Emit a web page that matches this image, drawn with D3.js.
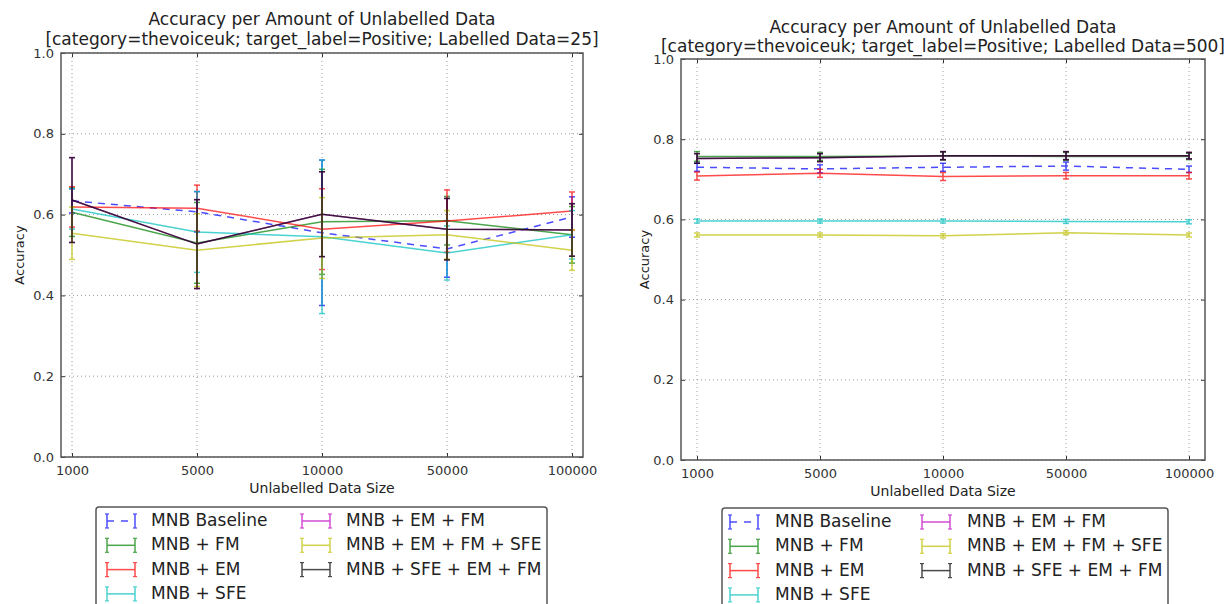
<!DOCTYPE html>
<html><head><meta charset="utf-8">
<script src="https://cdn.jsdelivr.net/npm/d3@7"></script>
<style>
body{margin:0;background:#fff;}
svg{font-family:"DejaVu Sans",sans-serif;}
</style></head>
<body><svg id="c" width="1224" height="604"></svg>
<script>
const xLabels = ["1000","5000","10000","50000","100000"];
const yTicks = [0.0,0.2,0.4,0.6,0.8,1.0];
const seriesNames = ["MNB Baseline","MNB + FM","MNB + EM","MNB + SFE","MNB + EM + FM","MNB + EM + FM + SFE","MNB + SFE + EM + FM"];
const seriesColors = ["#0000ff","#008000","#ff0000","#00bfbf","#bf00bf","#bfbf00","#000000"];
const titleLine1 = "Accuracy per Amount of Unlabelled Data";
const titlesLine2 = ["[category=thevoiceuk; target_label=Positive; Labelled Data=25]","[category=thevoiceuk; target_label=Positive; Labelled Data=500]"];

// Labelled Data = 25
const meansL25 = [
  [0.634,0.607,0.555,0.515,0.594],
  [0.606,0.530,0.582,0.585,0.550],
  [0.619,0.616,0.564,0.584,0.609],
  [0.614,0.557,0.545,0.505,0.550],
  [0.636,0.527,0.601,0.564,0.562],
  [0.554,0.512,0.542,0.550,0.512],
  [0.636,0.527,0.601,0.564,0.562]
];
const errsL25 = [
  [0.030,0.050,0.180,0.070,0.050],
  [0.060,0.100,0.130,0.060,0.070],
  [0.050,0.057,0.100,0.077,0.047],
  [0.050,0.100,0.190,0.067,0.060],
  [0.105,0.110,0.105,0.076,0.065],
  [0.065,0.090,0.100,0.060,0.050],
  [0.105,0.110,0.105,0.076,0.065]
];
// Labelled Data = 500
const meansL500 = [
  [0.730,0.726,0.730,0.733,0.725],
  [0.757,0.757,0.758,0.757,0.757],
  [0.708,0.715,0.707,0.709,0.709],
  [0.596,0.596,0.596,0.595,0.594],
  [0.752,0.754,0.759,0.759,0.759],
  [0.561,0.561,0.559,0.567,0.561],
  [0.752,0.754,0.759,0.759,0.759]
];
const errsL500 = [
  [0.010,0.010,0.010,0.010,0.008],
  [0.012,0.010,0.010,0.010,0.008],
  [0.010,0.010,0.010,0.008,0.008],
  [0.005,0.005,0.005,0.005,0.005],
  [0.012,0.010,0.010,0.010,0.008],
  [0.005,0.005,0.005,0.005,0.005],
  [0.012,0.010,0.010,0.010,0.008]
];

const panels = [
  {box:{l:61,r:583,t:53,b:457}, pad:11, means:meansL25, errs:errsL25, title2:titlesLine2[0], t1:20, t2:40, ylabX:20, legend:{x:96,y:507,w:451,hx:11,col2:195,tx:44}},
  {box:{l:681,r:1205,t:59,b:460}, pad:16, means:meansL500, errs:errsL500, title2:titlesLine2[1], t1:28, t2:47, ylabX:645, legend:{x:722,y:508,w:446,hx:8,col2:192,tx:45}}
];

const svg = d3.select("#c");

panels.forEach(p => {
  const g = svg.append("g");
  const b = p.box;
  const x = d3.scalePoint().domain(xLabels).range([b.l+p.pad, b.r-p.pad]);
  const y = d3.scaleLinear().domain([0,1]).range([b.b, b.t]);

  // grid
  g.append("g").selectAll("line.gx").data(xLabels).join("line")
    .attr("x1",d=>x(d)).attr("x2",d=>x(d)).attr("y1",b.t).attr("y2",b.b)
    .attr("stroke","#9a9a9a").attr("stroke-width",1).attr("stroke-dasharray","1,3");
  g.append("g").selectAll("line.gy").data(yTicks).join("line")
    .attr("x1",b.l).attr("x2",b.r).attr("y1",d=>y(d)).attr("y2",d=>y(d))
    .attr("stroke","#9a9a9a").attr("stroke-width",1).attr("stroke-dasharray","1,3");

  // axes
  const xa = g.append("g").attr("transform",`translate(0,${b.b})`)
    .call(d3.axisBottom(x).tickSizeInner(-4).tickSizeOuter(0).tickPadding(9));
  const xt = g.append("g").attr("transform",`translate(0,${b.t})`)
    .call(d3.axisTop(x).tickSizeInner(-4).tickSizeOuter(0).tickFormat(""));
  const ya = g.append("g").attr("transform",`translate(${b.l},0)`)
    .call(d3.axisLeft(y).tickValues(yTicks).tickFormat(d3.format(".1f")).tickSizeInner(-4).tickSizeOuter(0).tickPadding(7));
  const yr = g.append("g").attr("transform",`translate(${b.r},0)`)
    .call(d3.axisRight(y).tickValues(yTicks).tickFormat("").tickSizeInner(-4).tickSizeOuter(0));
  [xa,xt,ya,yr].forEach(a=>{
    a.select(".domain").remove();
    a.selectAll(".tick line").attr("stroke","#333");
    a.selectAll("text").attr("font-size",13).attr("fill","#333").attr("font-family","DejaVu Sans");
  });

  // series
  const line = d3.line().x((d,i)=>x(xLabels[i])).y(d=>y(d));
  p.means.forEach((vals,si)=>{
    const col = seriesColors[si];
    const sg = g.append("g").attr("opacity",0.7);
    sg.append("path").datum(vals).attr("d",line).attr("fill","none")
      .attr("stroke",col).attr("stroke-width",1.5)
      .attr("stroke-dasharray", si===0 ? "7,6" : null);
    vals.forEach((v,i)=>{
      const e = p.errs[si][i];
      const cx = x(xLabels[i]);
      sg.append("line").attr("x1",cx).attr("x2",cx).attr("y1",y(v-e)).attr("y2",y(v+e))
        .attr("stroke",col).attr("stroke-width",1.5);
      [v-e,v+e].forEach(c=>{
        sg.append("line").attr("x1",cx-3).attr("x2",cx+3).attr("y1",y(c)).attr("y2",y(c))
          .attr("stroke",col).attr("stroke-width",1.5);
      });
    });
  });

  // frame
  g.append("rect").attr("x",b.l).attr("y",b.t).attr("width",b.r-b.l).attr("height",b.b-b.t)
    .attr("fill","none").attr("stroke","#555").attr("stroke-width",1.5);

  // titles
  const cx = (b.l+b.r)/2;
  g.append("text").attr("x",cx).attr("y",p.t1).attr("text-anchor","middle").attr("dominant-baseline","middle")
    .attr("font-size",17).attr("fill","#222").text(titleLine1);
  g.append("text").attr("x",cx).attr("y",p.t2).attr("text-anchor","middle").attr("dominant-baseline","middle")
    .attr("font-size",17).attr("fill","#222").text(p.title2);
  g.append("text").attr("x",cx).attr("y",b.b+32).attr("text-anchor","middle").attr("dominant-baseline","middle")
    .attr("font-size",14).attr("fill","#222").text("Unlabelled Data Size");
  g.append("text").attr("transform",`translate(${p.ylabX},${(b.t+b.b)/2}) rotate(-90)`)
    .attr("text-anchor","middle").attr("dominant-baseline","middle")
    .attr("font-size",13).attr("fill","#222").text("Accuracy");

  // legend
  const L = p.legend;
  const lg = g.append("g").attr("transform",`translate(${L.x},${L.y})`);
  lg.append("rect").attr("x",0).attr("y",0).attr("width",L.w).attr("height",120).attr("rx",3)
    .attr("fill","#fff").attr("stroke","#555").attr("stroke-width",1.5);
  seriesNames.forEach((name,si)=>{
    const col = si<4 ? 0 : 1;
    const row = si<4 ? si : si-4;
    const ox = L.hx + col*L.col2;
    const oy = 14 + row*24.3;
    const ig = lg.append("g").attr("transform",`translate(${ox},${oy})`);
    const hg = ig.append("g").attr("opacity",0.7);
    hg.append("line").attr("x1",0).attr("x2",28).attr("y1",0).attr("y2",0)
      .attr("stroke",seriesColors[si]).attr("stroke-width",1.5)
      .attr("stroke-dasharray", si===0 ? "7,7" : null);
    [0,28].forEach(hx=>{
      hg.append("line").attr("x1",hx).attr("x2",hx).attr("y1",-7).attr("y2",7)
        .attr("stroke",seriesColors[si]).attr("stroke-width",1.5);
      hg.append("line").attr("x1",hx-2).attr("x2",hx+2).attr("y1",-7).attr("y2",-7)
        .attr("stroke",seriesColors[si]).attr("stroke-width",1.2);
      hg.append("line").attr("x1",hx-2).attr("x2",hx+2).attr("y1",7).attr("y2",7)
        .attr("stroke",seriesColors[si]).attr("stroke-width",1.2);
    });
    ig.append("text").attr("x",L.tx).attr("y",0).attr("dominant-baseline","middle")
      .attr("font-size",17).attr("fill","#222").text(name);
  });
});
</script></body></html>
